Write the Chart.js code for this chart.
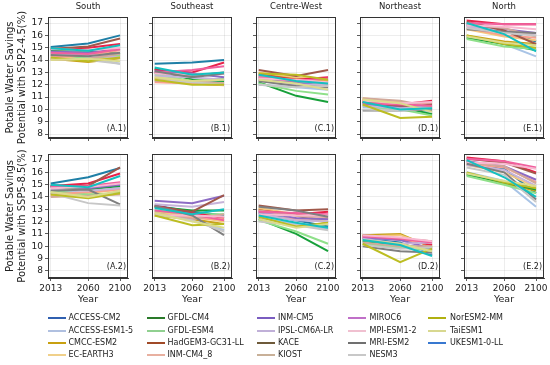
<!DOCTYPE html>
<html>
<head>
<meta charset="utf-8">
<script src="https://cdn.jsdelivr.net/npm/chart.js@4.4.1/dist/chart.umd.min.js"></script>
<style>
  html, body { margin: 0; padding: 0; background: #fff; }
  #wrap { position: relative; width: 550px; height: 365px; overflow: hidden; font-family: "DejaVu Sans", sans-serif; }
  #wrap canvas { position: absolute; }
  .lg-text { position: absolute; font-size: 8px; line-height: 12px; height: 12px; color: #222; white-space: nowrap; }
  .lg-line { position: absolute; height: 2px; width: 18px; }
</style>
</head>
<body>
<div id="wrap"></div>
<script>
"use strict";

const years = [2013, 2060, 2100];
const yTicks = [8, 9, 10, 11, 12, 13, 14, 15, 16, 17];
const regions = ["South", "Southeast", "Centre-West", "Northeast", "North"];
const rowTitles = [
  ["Potable Water Savings", "Potential with SSP2-4.5(%)"],
  ["Potable Water Savings", "Potential with SSP5-8.5(%)"],
];
const panelTags = [
  ["(A.1)", "(B.1)", "(C.1)", "(D.1)", "(E.1)"],
  ["(A.2)", "(B.2)", "(C.2)", "(D.2)", "(E.2)"],
];
const models = [
  "ACCESS-CM2", "ACCESS-ESM1-5", "CMCC-ESM2", "EC-EARTH3",
  "GFDL-CM4", "GFDL-ESM4", "HadGEM3-GC31-LL", "INM-CM4_8",
  "INM-CM5", "IPSL-CM6A-LR", "KACE", "KIOST",
  "MIROC6", "MPI-ESM1-2", "MRI-ESM2", "NESM3",
  "NorESM2-MM", "TaiESM1", "UKESM1-0-LL",
];

// one row per model (same order as models), values at 2013 / 2060 / 2100
const south245 = [
  [15.05, 15.35, 16.0], [14.3, 14.2, 13.7], [14.1, 13.85, 14.15], [14.4, 14.0, 14.3],
  [14.8, 14.75, 14.5], [14.6, 14.1, 14.4], [14.9, 15.0, 15.3], [14.2, 14.4, 14.8],
  [14.7, 14.6, 14.9], [14.5, 14.4, 14.2], [14.9, 15.1, 15.75], [14.0, 14.1, 14.5],
  [14.6, 14.5, 14.9], [14.9, 14.8, 15.0], [14.4, 14.3, 14.6], [14.1, 14.0, 13.7],
  [14.2, 13.9, 14.2], [14.0, 14.1, 13.9], [14.95, 14.75, 15.2],
];
const southeast245 = [
  [13.7, 13.8, 14.0], [12.9, 12.5, 12.2], [12.5, 12.1, 12.0], [12.6, 12.2, 12.1],
  [13.3, 12.4, 12.3], [12.8, 12.3, 12.5], [13.2, 13.0, 13.8], [12.2, 12.1, 11.95],
  [13.1, 12.9, 12.6], [12.7, 12.6, 12.4], [13.0, 12.7, 13.0], [12.3, 12.3, 12.1],
  [13.0, 13.2, 13.5], [12.9, 12.8, 12.9], [13.1, 12.6, 12.9], [12.4, 12.2, 12.0],
  [12.4, 12.0, 12.0], [12.6, 12.3, 12.4], [13.4, 12.8, 13.0],
];
const centreWest245 = [
  [12.6, 12.4, 12.3], [12.0, 11.8, 11.6], [12.9, 12.5, 12.3], [13.0, 12.6, 12.4],
  [12.2, 11.1, 10.6], [12.1, 11.5, 11.2], [12.8, 12.4, 12.6], [12.5, 12.0, 11.8],
  [12.4, 12.2, 11.9], [12.3, 12.0, 12.0], [13.2, 12.7, 13.2], [12.7, 12.3, 12.1],
  [12.6, 12.3, 12.5], [12.5, 12.4, 12.2], [12.3, 11.9, 11.8], [12.0, 11.8, 11.9],
  [12.9, 12.8, 12.4], [12.4, 12.1, 11.6], [12.8, 12.3, 12.1],
];
const northeast245 = [
  [10.5, 10.1, 10.2], [10.2, 10.0, 9.8], [10.8, 10.3, 10.0], [10.9, 10.6, 10.3],
  [10.6, 10.2, 9.6], [10.3, 10.0, 9.5], [10.7, 10.4, 10.7], [10.8, 10.5, 10.4],
  [10.4, 10.2, 10.0], [10.3, 10.1, 10.2], [10.6, 10.3, 10.4], [10.9, 10.7, 10.2],
  [10.5, 10.4, 10.3], [10.7, 10.5, 10.6], [9.9, 9.9, 10.0], [10.0, 9.9, 10.1],
  [10.4, 9.3, 9.4], [10.8, 10.5, 9.8], [10.6, 10.0, 10.1],
];
const north245 = [
  [16.8, 16.4, 15.5], [15.9, 15.3, 14.3], [16.0, 15.5, 15.3], [16.5, 15.9, 15.6],
  [15.8, 15.3, 14.8], [15.7, 15.1, 14.9], [17.2, 16.9, 16.9], [16.6, 16.0, 15.8],
  [16.9, 16.5, 16.2], [16.7, 16.4, 16.0], [17.1, 16.4, 15.3], [16.9, 16.6, 15.9],
  [17.0, 16.9, 16.9], [16.8, 16.7, 16.5], [16.5, 16.3, 16.2], [16.6, 16.2, 16.0],
  [16.0, 15.3, 15.0], [15.9, 15.4, 15.2], [17.0, 16.1, 14.7],
];
const south585 = [
  [15.1, 15.6, 16.35], [14.6, 14.3, 14.8], [14.3, 14.0, 14.4], [14.1, 14.3, 14.6],
  [14.8, 14.6, 14.9], [14.5, 14.2, 14.3], [14.9, 15.1, 15.9], [14.2, 14.4, 14.6],
  [14.9, 14.7, 15.0], [14.6, 14.5, 14.7], [14.9, 14.9, 16.4], [14.0, 14.1, 14.2],
  [14.8, 14.9, 15.2], [14.7, 14.8, 15.1], [14.5, 14.6, 13.4], [14.3, 13.5, 13.3],
  [14.2, 13.9, 14.3], [14.4, 14.0, 14.5], [15.0, 14.8, 15.7],
];
const southeast585 = [
  [13.3, 12.8, 12.5], [12.9, 12.3, 11.3], [12.5, 12.2, 11.8], [12.8, 12.4, 12.0],
  [13.2, 12.9, 12.9], [12.9, 12.6, 12.6], [13.3, 12.7, 12.3], [12.6, 12.3, 12.2],
  [13.7, 13.5, 14.1], [13.4, 13.2, 13.6], [13.2, 12.8, 14.15], [12.7, 12.2, 12.6],
  [12.9, 12.6, 12.1], [12.5, 12.5, 12.4], [13.3, 12.5, 10.9], [12.6, 12.1, 11.2],
  [12.5, 11.7, 11.8], [12.7, 12.0, 11.5], [13.1, 12.6, 13.0],
];
const centreWest585 = [
  [12.7, 12.1, 11.6], [12.3, 11.8, 11.4], [13.0, 12.5, 11.9], [13.1, 12.6, 12.0],
  [12.2, 11.0, 9.6], [12.1, 11.2, 10.2], [12.9, 12.6, 12.8], [12.5, 12.2, 12.3],
  [12.8, 12.3, 12.2], [12.6, 12.1, 12.0], [13.3, 12.9, 13.0], [12.9, 12.5, 12.4],
  [12.8, 12.7, 12.6], [12.6, 12.5, 12.5], [13.2, 12.9, 12.4], [12.0, 11.7, 11.3],
  [12.4, 11.6, 11.9], [12.2, 11.5, 11.8], [12.5, 11.9, 11.5],
];
const northeast585 = [
  [10.6, 10.3, 9.3], [10.4, 10.0, 9.4], [10.9, 11.0, 9.9], [10.8, 10.9, 10.0],
  [10.4, 10.1, 9.8], [10.2, 9.9, 9.7], [10.7, 10.6, 10.1], [10.8, 10.5, 10.3],
  [10.7, 10.5, 9.8], [10.6, 10.2, 10.3], [10.9, 10.6, 10.4], [10.3, 10.0, 10.0],
  [10.8, 10.6, 10.3], [10.9, 10.7, 10.4], [10.0, 9.6, 9.5], [10.1, 9.8, 9.9],
  [10.2, 8.7, 9.8], [10.5, 10.2, 9.6], [10.5, 10.1, 9.2],
];
const north585 = [
  [16.9, 16.3, 14.3], [16.0, 15.3, 13.2], [15.9, 15.1, 14.5], [16.6, 16.0, 14.8],
  [15.8, 15.2, 14.6], [15.7, 15.0, 14.3], [17.2, 16.9, 16.0], [16.7, 16.4, 15.2],
  [16.9, 16.5, 15.4], [16.6, 16.2, 14.9], [17.1, 16.8, 15.9], [16.8, 16.5, 15.1],
  [17.1, 16.9, 16.4], [16.8, 16.7, 16.3], [16.7, 16.0, 13.8], [16.4, 15.8, 13.6],
  [16.0, 15.2, 14.7], [15.9, 15.3, 14.9], [17.0, 15.6, 14.0],
];

const panelData = [
  [south245, southeast245, centreWest245, northeast245, north245],
  [south585, southeast585, centreWest585, northeast585, north585],
];

const lineColors = [
  "#1f7fa6", "#a9c4e6", "#c9a21a", "#f5c77e",
  "#17a03a", "#8fe08a", "#e8234a", "#f9a08f",
  "#8c6bc4", "#c6b3d9", "#a0584a", "#d1a89a",
  "#f0609e", "#f8b8d0", "#7f7f7f", "#c7c7c7",
  "#bcbd22", "#dbdb8d", "#14c0c0",
];
const legendColors = [
  "#3060b0", "#b0c0e0", "#c8a010", "#f0d08a",
  "#2a7a2a", "#90d090", "#a04a28", "#e8b0a0",
  "#7a5cc0", "#c0b0d8", "#6e5a3a", "#c8b098",
  "#c070c8", "#f0c0d0", "#707070", "#c8c8c8",
  "#b0b010", "#d8d890", "#3878d0",
];

const FONT = "DejaVu Sans";
const panelLeft = [48, 152, 256, 360, 464];
const panelW = 80;
const axisW = 48;
const rowCanvasTop = [0, 140];
const rowCanvasH = [150, 170];
const rowPadTop = [17, 14];
const rowXAxisH = [12, 32];
const rowYRange = [[7.68, 17.49], [7.42, 17.49]];
const rowTagOffset = [9, 11.5];

// frame on all four sides, the (X.n) tag and the region title over the top row
const panelDecor = {
  id: "panelDecor",
  afterDraw(chart, args, opts) {
    const { ctx, chartArea: a } = chart;
    ctx.save();
    ctx.strokeStyle = "#333";
    ctx.lineWidth = 1;
    ctx.strokeRect(Math.round(a.left) + 0.5, Math.round(a.top) + 0.5,
      Math.round(a.right - a.left) - 1, Math.round(a.bottom - a.top) - 1);
    ctx.fillStyle = "#222";
    ctx.font = "8px '" + FONT + "'";
    ctx.textAlign = "right";
    ctx.textBaseline = "middle";
    ctx.fillText(opts.tag, a.right - 2, a.bottom - opts.offset);
    if (opts.title) {
      ctx.font = "8.5px '" + FONT + "'";
      ctx.textAlign = "center";
      ctx.fillText(opts.title, (a.left + a.right) / 2, 7);
    }
    ctx.restore();
  },
};

function gridOpts() {
  return {
    color: "rgba(0,0,0,0.09)",
    lineWidth: 0.8,
    tickLength: 3,
    tickColor: "#333",
    tickWidth: 0.8,
  };
}

function makePanel(row, col) {
  const wrap = document.getElementById("wrap");
  const canvas = document.createElement("canvas");
  canvas.width = axisW + panelW + 8;
  canvas.height = rowCanvasH[row];
  canvas.style.left = panelLeft[col] - axisW + "px";
  canvas.style.top = rowCanvasTop[row] + "px";
  wrap.appendChild(canvas);

  const data = panelData[row][col];
  const datasets = models.map((name, i) => ({
    label: name,
    data: years.map((yr, k) => ({ x: yr, y: data[i][k] })),
    borderColor: lineColors[i],
    backgroundColor: lineColors[i],
    borderWidth: 2,
    pointRadius: 0,
    tension: 0,
    order: -i,
  }));

  new Chart(canvas, {
    type: "line",
    data: { datasets },
    options: {
      responsive: false,
      animation: false,
      events: [],
      layout: { padding: { top: rowPadTop[row], right: 8, left: 0, bottom: 0 } },
      plugins: {
        legend: { display: false },
        tooltip: { enabled: false },
        title: { display: false },
        panelDecor: {
          tag: panelTags[row][col],
          offset: rowTagOffset[row],
          title: row === 0 ? regions[col] : "",
        },
      },
      scales: {
        x: {
          type: "linear",
          min: 2009.6,
          max: 2110,
          afterBuildTicks: (s) => { s.ticks = years.map((v) => ({ value: v })); },
          afterFit: (s) => { s.height = rowXAxisH[row]; },
          ticks: {
            display: row === 1,
            autoSkip: false,
            maxRotation: 0,
            padding: 2,
            color: "#222",
            font: { family: FONT, size: 9 },
            callback: (v) => String(v),
          },
          grid: gridOpts(),
          border: { color: "#333", width: 1 },
          title: {
            display: row === 1,
            text: "Year",
            color: "#222",
            font: { family: FONT, size: 9.5 },
            padding: { top: 0, bottom: 5 },
          },
        },
        y: {
          min: rowYRange[row][0],
          max: rowYRange[row][1],
          afterBuildTicks: (s) => { s.ticks = yTicks.map((v) => ({ value: v })); },
          afterFit: (s) => { s.width = axisW; },
          ticks: {
            display: col === 0,
            autoSkip: false,
            padding: 2,
            color: "#222",
            font: { family: FONT, size: 9 },
            callback: (v) => String(v),
          },
          grid: gridOpts(),
          border: { color: "#333", width: 1 },
          title: {
            display: col === 0,
            text: rowTitles[row],
            color: "#222",
            font: { family: FONT, size: 10 },
            padding: { top: 4, bottom: 0 },
          },
        },
      },
    },
    plugins: [panelDecor],
  });
}

function buildLegend() {
  const wrap = document.getElementById("wrap");
  const swatchX = [48, 147, 257, 348, 428];
  const textX = [68.5, 167.5, 278, 369.5, 450];
  const rowY = [318, 330.5, 343, 355.3];
  models.forEach((name, i) => {
    const c = Math.floor(i / 4);
    const r = i % 4;
    const line = document.createElement("div");
    line.className = "lg-line";
    line.style.left = swatchX[c] + "px";
    line.style.top = rowY[r] - 1 + "px";
    line.style.background = legendColors[i];
    wrap.appendChild(line);
    const txt = document.createElement("div");
    txt.className = "lg-text";
    txt.style.left = textX[c] + "px";
    txt.style.top = rowY[r] - 6 + "px";
    txt.textContent = name;
    wrap.appendChild(txt);
  });
}

for (let row = 0; row < 2; row++) {
  for (let col = 0; col < 5; col++) {
    makePanel(row, col);
  }
}
buildLegend();
</script>
</body>
</html>
